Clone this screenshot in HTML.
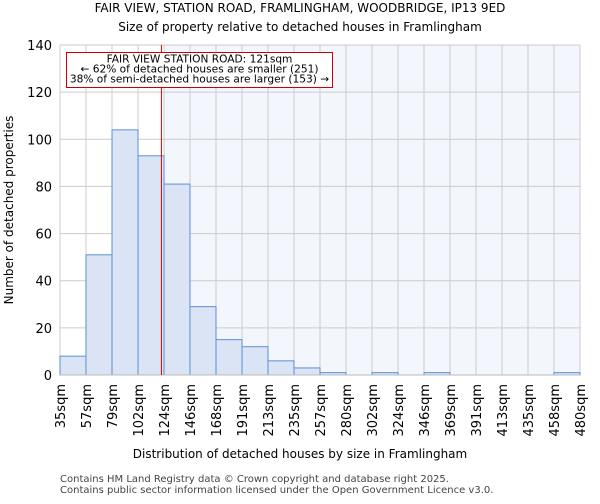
<!DOCTYPE html>
<html><head><meta charset="utf-8"><style>
body{margin:0;background:#fff;font-family:"DejaVu Sans","Liberation Sans",sans-serif;}
</style></head><body>
<svg width="600" height="500" xmlns="http://www.w3.org/2000/svg" font-family="DejaVu Sans, Liberation Sans, sans-serif">
<text x="300" y="12" text-anchor="middle" font-size="12">FAIR VIEW, STATION ROAD, FRAMLINGHAM, WOODBRIDGE, IP13 9ED</text>
<text x="300" y="31" text-anchor="middle" font-size="12">Size of property relative to detached houses in Framlingham</text>
<g id="plot"></g>
<text x="300" y="458" text-anchor="middle" font-size="12">Distribution of detached houses by size in Framlingham</text>
<text transform="translate(13,210) rotate(-90)" text-anchor="middle" font-size="12">Number of detached properties</text>
<text x="60" y="482" font-size="10" fill="#444">Contains HM Land Registry data © Crown copyright and database right 2025.</text>
<text x="60" y="493" font-size="10" fill="#444">Contains public sector information licensed under the Open Government Licence v3.0.</text>
</svg>
<script>
const categories=["35sqm","57sqm","79sqm","102sqm","124sqm","146sqm","168sqm","191sqm","213sqm","235sqm","257sqm","280sqm","302sqm","324sqm","346sqm","369sqm","391sqm","413sqm","435sqm","458sqm","480sqm"];
const counts=[8,51,104,93,81,29,15,12,6,3,1,0,1,0,1,0,0,0,0,1];
const yTicks=[0,20,40,60,80,100,120,140];
const markerBin=3.9;
const shadeFromBin=4;
const NS="http://www.w3.org/2000/svg";
const g=document.getElementById('plot');
const X0=60,X1=580,Y0=375,Y1=45,YMAX=140;
const bw=(X1-X0)/counts.length;
const xs=i=>X0+i*bw;
const ys=v=>Y0-(v/YMAX)*(Y0-Y1);
function mk(t,a){const e=document.createElementNS(NS,t);for(const k in a)e.setAttribute(k,a[k]);g.appendChild(e);return e;}
let e=mk('rect',{x:xs(shadeFromBin),y:Y1,width:X1-xs(shadeFromBin),height:Y0-Y1,fill:'#f3f6fd'});


for(let i=0;i<categories.length;i++){e=mk('line',{x1:xs(i),x2:xs(i),y1:Y1,y2:Y0,stroke:'#ccc','stroke-width':1});

}
yTicks.forEach(t=>{e=mk('line',{x1:X0,x2:X1,y1:ys(t),y2:ys(t),stroke:'#ccc','stroke-width':1});


e=mk('text',{x:X0-8,y:ys(t)+5,'text-anchor':'end','font-size':13});e.textContent=t;

});
counts.forEach((c,i)=>{if(c<=0)return;e=mk('rect',{x:xs(i),y:ys(c),width:bw,height:Y0-ys(c),fill:'#dae4f4',stroke:'#5b8fd6','stroke-width':1});

});
e=mk('line',{x1:X0,x2:X1,y1:Y0,y2:Y0,stroke:'#bbb','stroke-width':1});


categories.forEach((c,i)=>{e=mk('text',{transform:`translate(${xs(i)+5},384) rotate(-90)`,'text-anchor':'end','font-size':13});e.textContent=c;

});
const mx=xs(markerBin);
e=mk('line',{x1:mx,x2:mx,y1:Y1,y2:Y0,stroke:'#c00','stroke-width':1});


e=mk('rect',{x:66.5,y:52.5,width:266,height:35,fill:'#fff',stroke:'#c00','stroke-width':1});


["FAIR VIEW STATION ROAD: 121sqm","← 62% of detached houses are smaller (251)","38% of semi-detached houses are larger (153) →"].forEach((s,k)=>{
e=mk('text',{x:199.5,y:62.5+k*10,'text-anchor':'middle','font-size':10.6});e.textContent=s;

});
</script>
</body></html>
